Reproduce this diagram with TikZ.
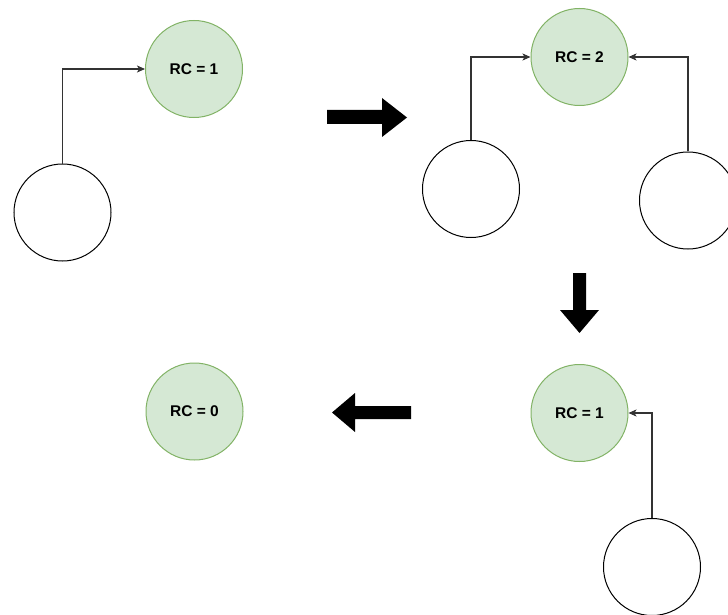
\documentclass[tikz,border=0pt]{standalone}
\usepackage{fontspec}
\setmainfont{Liberation Sans}
\usetikzlibrary{arrows.meta}
\definecolor{rcfill}{HTML}{D5E8D4}
\definecolor{rcline}{HTML}{82B366}
\definecolor{wire}{HTML}{333333}
\begin{document}
\begin{tikzpicture}[x=1pt,y=-1pt,
  counter/.style={circle,draw=rcline,fill=rcfill,line width=1pt,minimum size=97pt,inner sep=0pt,
    font=\fontsize{15.5}{18}\selectfont\bfseries},
  holder/.style={circle,draw=black,fill=white,line width=1pt,minimum size=97pt,inner sep=0pt},
  ref/.style={draw=wire,line width=1.1pt,-{Stealth[length=8pt,width=7pt,inset=2pt]}},
  bigarrow/.style={fill=black}]
\useasboundingbox (0,0) rectangle (728,615);
\clip (0,0) rectangle (728,615);
% reference-count nodes
\node[counter] (g1) at (194,69) {RC = 1};
\node[counter] (g2) at (579.5,57) {RC = 2};
\node[counter] (g3) at (579.5,413) {RC = 1};
\node[counter] (g0) at (194.5,411.5) {RC = 0};
% owners holding a reference
\node[holder] (w1) at (62.5,212.5) {};
\node[holder] (w2) at (471,189) {};
\node[holder] (w3) at (688,200.5) {};
\node[holder] (w4) at (652,567) {};
% references
\draw[ref] (w1.north) |- (g1.west);
\draw[ref] (w2.north) |- (g2.west);
\draw[ref] (w3.north) |- (g2.east);
\draw[ref] (w4.north) |- (g3.east);
% step arrows
\fill[bigarrow] (327,110) -- (382,110) -- (382,98) -- (407,117.5) -- (382,137) -- (382,124) -- (327,124) -- cycle;
\fill[bigarrow] (573,273) -- (586,273) -- (586,310) -- (599,310) -- (579.5,333) -- (560,310) -- (573,310) -- cycle;
\fill[bigarrow] (411,406) -- (355,406) -- (355,393) -- (332,412.5) -- (355,432) -- (355,419) -- (411,419) -- cycle;
\end{tikzpicture}
\end{document}
